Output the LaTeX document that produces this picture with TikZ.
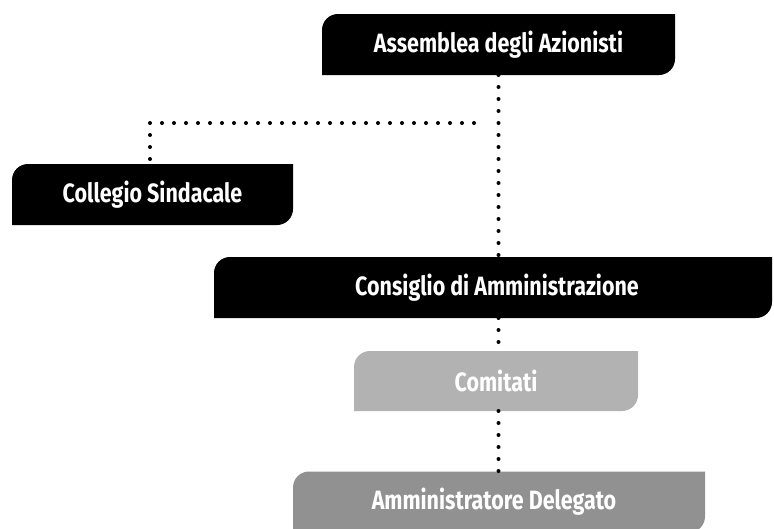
\documentclass[tikz,border=0pt]{standalone}
\usepackage{graphicx}
\usepackage{fontspec}
\setmainfont{Fira Sans}
\usetikzlibrary{backgrounds}
\definecolor{gcom}{gray}{0.70}
\definecolor{gad}{gray}{0.57}
\newcommand{\lbl}[1]{\fontsize{26.5}{30}\selectfont\bfseries\scalebox{0.81}[1]{#1}}
\tikzset{
  box/.style={rectangle, inner sep=0pt, outer sep=0pt, minimum height=61pt, text=white, font=\bfseries},
  dotline/.style={line width=4pt, dash pattern=on 0pt off 12pt, line cap=round, black},
}
\begin{document}
\begin{tikzpicture}[x=1pt,y=1pt]
\useasboundingbox (0,0) rectangle (774,-528);
\node[box, minimum width=353pt] (A) at (498.5,-44.5) {\lbl{Assemblea degli Azionisti}};
\node[box, minimum width=281pt] (B) at (152.5,-194.5) {\lbl{Collegio Sindacale}};
\node[box, minimum width=558pt] (C) at (493,-287.5) {\hspace*{8pt}\lbl{Consiglio di Amministrazione}};
\node[box, minimum width=284pt, minimum height=60pt] (D) at (496,-381) {\lbl{Comitati}};
\node[box, minimum width=412pt] (E) at (499,-502) {\lbl{Amministratore Delegato}\hspace*{10pt}};
\begin{scope}[on background layer]
\foreach \n/\c in {A/black, B/black, C/black, D/gcom, E/gad}{
  \fill[\c] (\n.south west) -- ([yshift=-16pt]\n.north west)
    arc[start angle=180, end angle=90, radius=16pt]
    -- (\n.north east) -- ([yshift=16pt]\n.south east)
    arc[start angle=0, end angle=-90, radius=16pt] -- cycle;
}
\end{scope}
\coordinate (h1) at (474,-123);
\coordinate (h2) at (150,-123);
\draw[dotline] (A.south) -- (A.south |- C.north);
\draw[dotline] (h1) -- (h2) -- (h2 |- B.north);
\draw[dotline] (A.south |- C.south) -- (A.south |- D.north);
\draw[dotline] (A.south |- D.south) -- (A.south |- E.north);
\end{tikzpicture}
\end{document}
